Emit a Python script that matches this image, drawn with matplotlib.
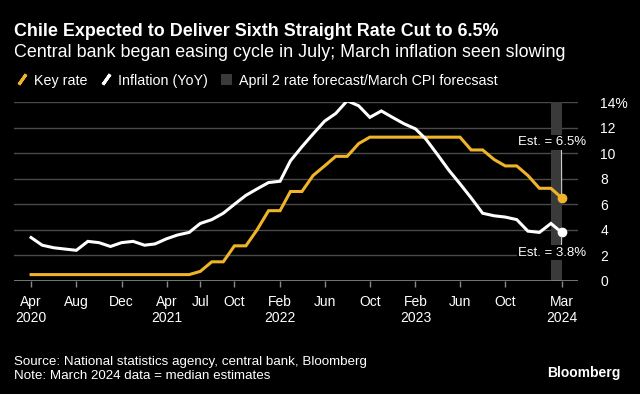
import numpy as np
import pandas as pd
import matplotlib
matplotlib.use("Agg")
import matplotlib.pyplot as plt
from matplotlib.lines import Line2D
from matplotlib.patches import Patch

plt.rcParams['font.family'] = ['Liberation Sans', 'DejaVu Sans']

# monthly data, Apr 2020 - Mar 2024 (last point = median estimate)
months = pd.date_range('2020-04-01', periods=48, freq='MS')
key_rate = [0.5] * 15 + [
    0.75, 1.5, 1.5, 2.75, 2.75, 4.0,
    5.5, 5.5, 7.0, 7.0, 8.25, 9.0, 9.75, 9.75, 10.75, 11.25, 11.25, 11.25,
    11.25, 11.25, 11.25, 11.25, 11.25, 11.25, 10.25, 10.25, 9.5, 9.0, 9.0, 8.25,
    7.25, 7.25, 6.5]
inflation = [
    3.4, 2.8, 2.6, 2.5, 2.4, 3.1, 3.0, 2.7, 3.0,
    3.1, 2.8, 2.9, 3.3, 3.6, 3.8, 4.5, 4.8, 5.3, 6.0, 6.7, 7.2,
    7.7, 7.8, 9.4, 10.5, 11.5, 12.5, 13.1, 14.1, 13.7, 12.8, 13.3, 12.8,
    12.3, 11.9, 11.1, 9.9, 8.7, 7.6, 6.5, 5.3, 5.1, 5.0, 4.8, 3.9,
    3.8, 4.5, 3.8]

tick_dates = ['2020-04', '2020-08', '2020-12', '2021-04', '2021-07', '2021-10',
              '2022-02', '2022-06', '2022-10', '2023-02', '2023-06', '2023-10',
              '2024-03']
tick_labels = ['Apr\n2020', 'Aug', 'Dec', 'Apr\n2021', 'Jul', 'Oct',
               'Feb\n2022', 'Jun', 'Oct', 'Feb\n2023', 'Jun', 'Oct', 'Mar\n2024']
y_ticks = [0, 2, 4, 6, 8, 10, 12, 14]
forecast_span = ('2024-02-01', '2024-03-01')

YELLOW = '#f0b429'
GRID = '#4a4a4a'
AXIS = '#8a8a8a'
SHADE = '#3a3a3a'

fig = plt.figure(figsize=(6.4, 3.94), dpi=100, facecolor='black')
ax = fig.add_axes([14 / 640, 1 - 281 / 394, 564 / 640, 179 / 394])
ax.set_facecolor('black')

ax.axvspan(pd.Timestamp(forecast_span[0]), pd.Timestamp(forecast_span[1]),
           color=SHADE, lw=0, zorder=1)
for y in y_ticks[1:]:
    ax.axhline(y, color=GRID, lw=1, zorder=0)
ax.axhline(0, color=AXIS, lw=1.2, zorder=2)

ax.plot(months, key_rate, color=YELLOW, lw=2.2, zorder=4, solid_joinstyle='miter')
ax.plot(months, inflation, color='white', lw=2.2, zorder=4, solid_joinstyle='miter')
ax.plot(months[-1], key_rate[-1], 'o', color=YELLOW, ms=6, zorder=5)
ax.plot(months[-1], inflation[-1], 'o', color='white', ms=6, zorder=5)

ax.set_xlim(pd.Timestamp('2020-02-15'), pd.Timestamp('2024-04-14'))
ax.set_ylim(0, 14)

ax.set_xticks([pd.Timestamp(d) for d in tick_dates])
ax.set_xticklabels(tick_labels, fontsize=10, color='white', linespacing=1.2)
ax.tick_params(axis='x', length=4, width=1, color=AXIS, pad=6)

ax.yaxis.tick_right()
ax.set_yticks(y_ticks)
ax.set_yticklabels([str(v) if v != 14 else '14%' for v in y_ticks],
                   fontsize=10, color='white')
ax.tick_params(axis='y', length=0, pad=16)
for s in ax.spines.values():
    s.set_visible(False)

bbox = dict(boxstyle='square,pad=0.1', fc='black', ec='none')
ax.annotate(f'Est. = {key_rate[-1]}%', xy=(months[-1], key_rate[-1]),
            xytext=(-7, 40), textcoords='offset points', ha='center', va='center',
            fontsize=9.5, color='white', bbox=bbox, zorder=6,
            arrowprops=dict(arrowstyle='-', color='#cccccc', lw=0.8,
                            relpos=(0.64, 0), shrinkA=0, shrinkB=3))
ax.annotate(f'Est. = {inflation[-1]}%', xy=(months[-1], inflation[-1]),
            xytext=(-7, -14.5), textcoords='offset points', ha='center', va='center',
            fontsize=9.5, color='white', bbox=bbox, zorder=6,
            arrowprops=dict(arrowstyle='-', color='#cccccc', lw=0.8,
                            relpos=(0.64, 1), shrinkA=0, shrinkB=3))

fig.text(14 / 640, 1 - 36 / 394, 'Chile Expected to Deliver Sixth Straight Rate Cut to 6.5%',
         fontsize=12.9, fontweight='bold', color='white', va='baseline')
fig.text(14 / 640, 1 - 57 / 394,
         'Central bank began easing cycle in July; March inflation seen slowing',
         fontsize=12.85, color='white', va='baseline')

handles = [
    Line2D([], [], color=YELLOW, marker=(2, 2, -35), ls='None', ms=9, mew=2.2),
    Line2D([], [], color='white', marker=(2, 2, -35), ls='None', ms=9, mew=2.2),
    Patch(facecolor=SHADE, edgecolor='none'),
]
labels = ['Key rate', 'Inflation (YoY)', 'April 2 rate forecast/March CPI forecsast']
leg = fig.legend(handles, labels, loc='center left', bbox_to_anchor=(3 / 640, 1 - 80.5 / 394),
                 ncol=3, frameon=False, fontsize=10.3, handlelength=0.8,
                 handletextpad=0.45, columnspacing=0.9, handleheight=0.8)
for t in leg.get_texts():
    t.set_color('white')

fig.text(14 / 640, 1 - 365 / 394, 'Source: National statistics agency, central bank, Bloomberg',
         fontsize=9.6, color='white', va='baseline')
fig.text(14 / 640, 1 - 379 / 394, 'Note: March 2024 data = median estimates',
         fontsize=9.6, color='white', va='baseline')
fig.text(620 / 640, 1 - 376.5 / 394, 'Bloomberg', fontsize=10, fontweight='bold',
         color='white', ha='right', va='baseline')

fig.savefig('out.png', dpi=100, facecolor='black')
